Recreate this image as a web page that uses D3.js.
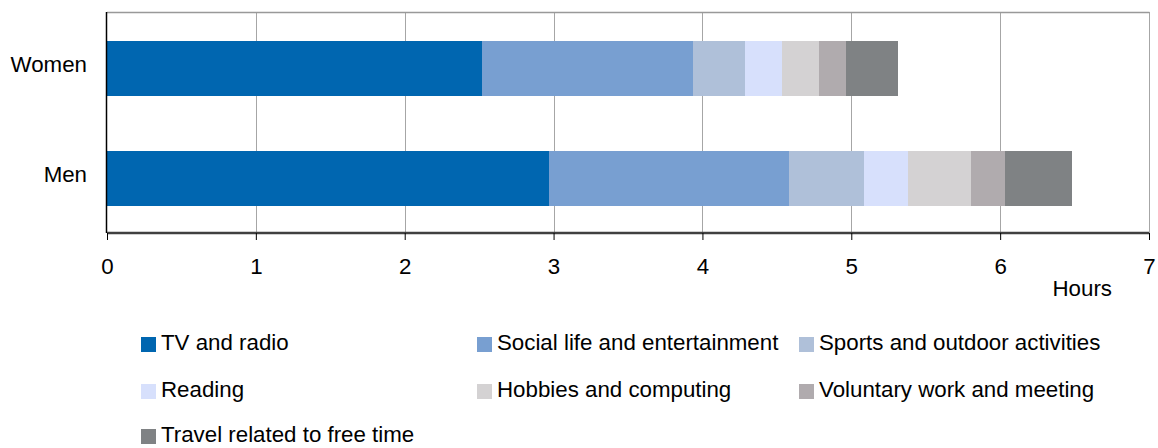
<!DOCTYPE html>
<html>
<head>
<meta charset="utf-8">
<script src="https://cdn.jsdelivr.net/npm/d3@7"></script>
<style>
  html, body { margin: 0; padding: 0; background: #ffffff; }
  svg { display: block; font-family: "Liberation Sans", Arial, sans-serif; }
</style>
</head>
<body>
<svg id="chart" width="1158" height="448"></svg>
<script>
// ---- data ----
const groups = ["Women", "Men"];
const activities = [
  "TV and radio",
  "Social life and entertainment",
  "Sports and outdoor activities",
  "Reading",
  "Hobbies and computing",
  "Voluntary work and meeting",
  "Travel related to free time"
];
// hours per day
const womenHours = [2.517, 1.417, 0.35, 0.25, 0.25, 0.183, 0.35];
const menHours   = [2.967, 1.617, 0.5, 0.3, 0.417, 0.233, 0.45];
const xTicks = [0, 1, 2, 3, 4, 5, 6, 7];
const xAxisTitle = "Hours";
const colors = ["#0066b0", "#789fd1", "#afc0d9", "#d7e0fc", "#d4d2d3", "#b0abae", "#7f8284"];

(function () {
const FS = 22.3;
// ---- build table ----
const table = groups.map((g, gi) => {
  const row = { group: g };
  const vals = gi === 0 ? womenHours : menHours;
  activities.forEach((a, i) => row[a] = vals[i]);
  return row;
});
const stacked = d3.stack().keys(activities)(table);

const svg = d3.select("#chart");
const pL = 107, pR = 1149, pT = 12, pB = 233;

const x = d3.scaleLinear().domain([0, 7]).range([pL, pR]);
const y = d3.scaleBand().domain(groups).range([pT + 1, pB]).paddingInner(0.5).paddingOuter(0.25);
const color = d3.scaleOrdinal().domain(activities).range(colors);

// grid lines
svg.append("g").selectAll("line").data(xTicks.filter(t => t > 0)).join("line")
  .attr("x1", d => Math.round(x(d)) + 0.5).attr("x2", d => Math.round(x(d)) + 0.5)
  .attr("y1", pT).attr("y2", pB)
  .attr("stroke", "#a6a6a6").attr("stroke-width", 1);
// top border
svg.append("line").attr("x1", pL).attr("x2", pR + 0.5).attr("y1", pT + 0.5).attr("y2", pT + 0.5)
  .attr("stroke", "#999999").attr("stroke-width", 1.5);

// bars
svg.append("g").selectAll("g").data(stacked).join("g")
  .attr("fill", d => color(d.key))
  .selectAll("rect").data(d => d).join("rect")
  .attr("x", d => x(d[0]))
  .attr("width", d => x(d[1]) - x(d[0]))
  .attr("y", d => y(d.data.group))
  .attr("height", y.bandwidth())
  .attr("shape-rendering", "crispEdges");

// left axis line
svg.append("line").attr("x1", pL - 0.5).attr("x2", pL - 0.5).attr("y1", pT).attr("y2", pB)
  .attr("stroke", "#000000").attr("stroke-width", 1.5);

// category labels
svg.append("g").selectAll("text").data(groups).join("text")
  .attr("x", 87).attr("y", d => y(d) + y.bandwidth() / 2 + 4)
  .attr("text-anchor", "end")
  .attr("font-size", FS).attr("fill", "#000").text(d => d);

// bottom axis
const xAxis = d3.axisBottom(x).tickValues(xTicks).tickFormat(d3.format("d")).tickSize(7).tickPadding(18);
const ax = svg.append("g").attr("transform", `translate(0,${pB})`).call(xAxis);
ax.select(".domain").attr("stroke", "#404040").attr("stroke-width", 2.5).attr("d", `M${pL},0H${pR}`);
ax.selectAll(".tick line").attr("stroke", "#000").attr("stroke-width", 1);
ax.selectAll(".tick text").attr("font-size", FS).attr("fill", "#000")
  .attr("font-family", "Liberation Sans, Arial, sans-serif");

svg.append("text").attr("x", 1112).attr("y", 296).attr("text-anchor", "end")
  .attr("font-size", FS).attr("fill", "#000").text(xAxisTitle);

// legend
const colX = [141, 477, 799];
const rowY = [350, 397, 442];
const lg = svg.append("g").selectAll("g").data(activities).join("g")
  .attr("transform", (d, i) => `translate(${colX[i % 3]},${rowY[Math.floor(i / 3)]})`);
lg.append("rect").attr("x", 0).attr("y", -13).attr("width", 15).attr("height", 15).attr("fill", d => color(d));
lg.append("text").attr("x", 20).attr("y", 0)
  .attr("font-size", FS).attr("fill", "#000").text(d => d);
})();
</script>
</body>
</html>
